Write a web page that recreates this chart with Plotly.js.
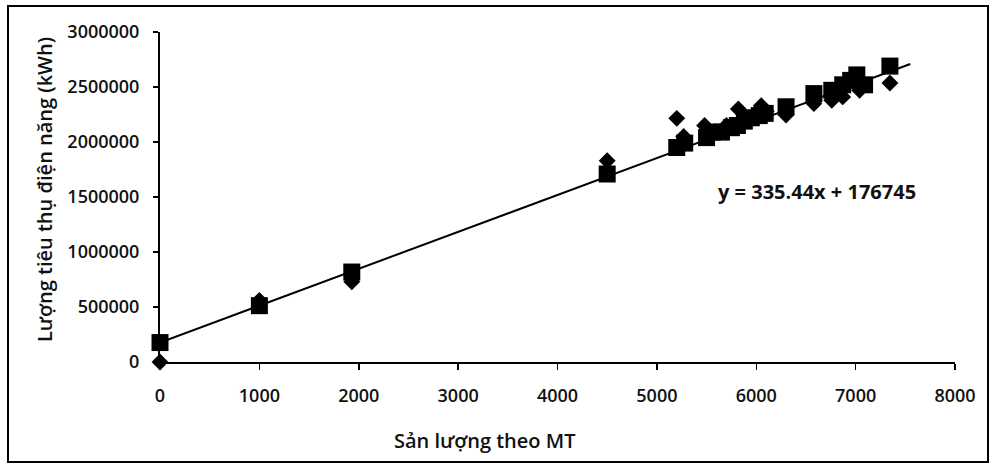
<!DOCTYPE html>
<html>
<head>
<meta charset="utf-8">
<script src="https://cdn.plot.ly/plotly-3.0.1.min.js"></script>
<style>
  html, body { margin: 0; padding: 0; background: #fff; }
  #chart { width: 992px; height: 466px; }
</style>
</head>
<body>
<div id="chart"></div>
<script>
// Actual consumption (diamonds)
const diamondX = [0, 1000, 1930, 4500, 5200, 5270, 5480, 5550, 5700, 5820, 5900, 6050, 6100, 6300, 6580, 6760, 6870, 7040, 7345];
const diamondY = [0, 560000, 730000, 1830000, 2215000, 2050000, 2150000, 2080000, 2150000, 2300000, 2200000, 2330000, 2280000, 2245000, 2350000, 2380000, 2410000, 2470000, 2536000];

// Second series (squares)
const squareX = [0, 1000, 1930, 4500, 5200, 5280, 5500, 5560, 5650, 5750, 5810, 5880, 5950, 6030, 6090, 6300, 6580, 6760, 6870, 6950, 7012, 7090, 7345];
const squareY = [176745, 512000, 818000, 1709000, 1950000, 1990000, 2040000, 2090000, 2090000, 2130000, 2150000, 2190000, 2220000, 2240000, 2260000, 2320000, 2440000, 2470000, 2520000, 2560000, 2610000, 2520000, 2690000];

// Linear trend line end points
const trendX = [0, 7550];
const trendY = [176745, 2709317];

const equationText = 'y = 335.44x + 176745';
const xTitle = 'Sản lượng theo MT';
const yTitle = 'Lượng tiêu thụ điện năng (kWh)';

const font = 'Open Sans, Noto Sans, sans-serif';

const traces = [
  {
    x: trendX, y: trendY, type: 'scatter', mode: 'lines',
    line: { color: '#000', width: 2 }, hoverinfo: 'skip', cliponaxis: false
  },
  {
    x: diamondX, y: diamondY, type: 'scatter', mode: 'markers',
    marker: { symbol: 'diamond', size: 13, color: '#000' }, cliponaxis: false
  },
  {
    x: squareX, y: squareY, type: 'scatter', mode: 'markers',
    marker: { symbol: 'square', size: 17, color: '#000' }, cliponaxis: false
  }
];

const L = 160, R = 955, T = 32, B = 362;
const pw = R - L, ph = B - T;
const px = v => (v - L) / pw;
const py = v => (B - v) / ph;

const layout = {
  width: 992, height: 466,
  margin: { l: L, r: 992 - R, t: T, b: 466 - B },
  paper_bgcolor: '#fff', plot_bgcolor: '#fff',
  showlegend: false,
  font: { family: font, size: 18, color: '#111' },
  xaxis: {
    range: [0, 8000], dtick: 1000, tick0: 0,
    showgrid: false, zeroline: false,
    showline: true, linecolor: '#000', linewidth: 2,
    ticks: 'outside', ticklen: 6, tickwidth: 1.5, tickcolor: '#000',
    ticklabelstandoff: 10,
    tickfont: { family: font, size: 18, color: '#111', weight: 600 },
    tickformat: 'd'
  },
  yaxis: {
    range: [0, 3000000], dtick: 500000, tick0: 0,
    showgrid: false, zeroline: false,
    showline: true, linecolor: '#000', linewidth: 2,
    ticks: 'outside', ticklen: 5, tickwidth: 1.5, tickcolor: '#000',
    ticklabelstandoff: 10,
    tickfont: { family: font, size: 18, color: '#111', weight: 600 },
    tickformat: 'd'
  },
  shapes: [
    {
      type: 'rect', xref: 'paper', yref: 'paper',
      x0: px(8), x1: px(988), y0: py(462), y1: py(6),
      line: { color: '#000', width: 2 }, fillcolor: 'rgba(0,0,0,0)', layer: 'below'
    }
  ],
  annotations: [
    {
      text: equationText, xref: 'paper', yref: 'paper',
      x: px(817), y: py(191), xanchor: 'center', yanchor: 'middle',
      showarrow: false, font: { family: font, size: 20, color: '#111', weight: 700 }
    },
    {
      text: xTitle, xref: 'paper', yref: 'paper',
      x: px(484), y: py(440), xanchor: 'center', yanchor: 'middle',
      showarrow: false, font: { family: font, size: 20, color: '#111', weight: 600 }
    },
    {
      text: yTitle, xref: 'paper', yref: 'paper',
      x: px(44), y: py(190), xanchor: 'center', yanchor: 'middle',
      textangle: -90,
      showarrow: false, font: { family: font, size: 20, color: '#111', weight: 600 }
    }
  ]
};

Plotly.newPlot('chart', traces, layout, { staticPlot: true, displayModeBar: false });
</script>
</body>
</html>
